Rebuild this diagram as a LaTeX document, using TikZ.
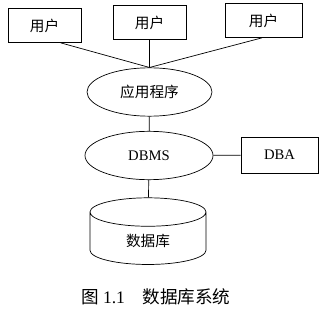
\documentclass[tikz,border=0pt]{standalone}
\usepackage{fontspec}
\setmainfont{Liberation Serif}
\newfontfamily\cjk{Noto Sans CJK SC}
\usetikzlibrary{shapes.geometric}

\begin{document}
\begin{tikzpicture}[x=0.03cm, y=-0.03cm, line width=0.6pt, font=\fontsize{12.5}{15}\selectfont,
  userbox/.style={draw, rectangle, minimum height=1.02cm},
  oval/.style={draw, ellipse, inner sep=0pt, minimum height=1.45cm}]
\useasboundingbox (0,0) rectangle (321,319);
\node[userbox, minimum width=2.19cm] (u1) at (44.5,25.5) {\cjk 用户};
\node[userbox, minimum width=2.19cm] (u2) at (149.5,22.5) {\cjk 用户};
\node[userbox, minimum width=2.31cm] (u3) at (263.5,20.5) {\cjk 用户};
\node[oval, minimum width=3.75cm] (app) at (149.5,92) {\cjk 应用程序};
\node[oval, minimum width=3.84cm] (dbms) at (149,155.5) {DBMS};
\node[draw, rectangle, minimum width=2.31cm, minimum height=1.08cm] (dba) at (279.5,155) {DBA};
\node[draw, cylinder, shape border rotate=90, aspect=0.55, minimum width=3.48cm, minimum height=2cm] (db) at (148,241) {\cjk 数据库};
\node[font=\fontsize{15}{18}\selectfont] (cap) at (156,297) {\cjk 图\ \rmfamily 1.1\quad\cjk 数据库系统};

\draw (u1.-47) -- (app.north);
\draw (u2) -- (app);
\draw (u3.-95) -- (app.north);
\draw (app) -- (dbms);
\draw (dbms) -- (dba);
\draw (dbms) -- (db);
\end{tikzpicture}
\end{document}
